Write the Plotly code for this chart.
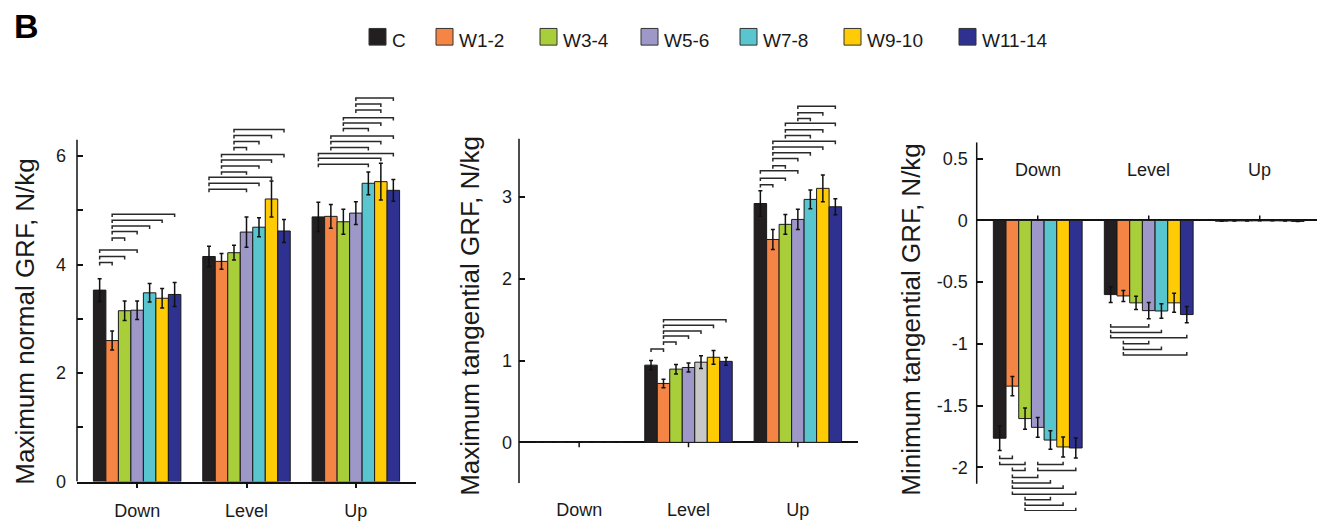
import plotly.graph_objects as go

W, H = 1317, 521
FONT = "Liberation Sans, Arial, sans-serif"
TXT = "#1a1a1a"

categories = ["Down", "Level", "Up"]
groups = ["C", "W1-2", "W3-4", "W5-6", "W7-8", "W9-10", "W11-14"]
colors = ["#231f20", "#f58545", "#a8cf3a", "#9e98c9", "#58c5cf", "#ffcb05", "#2e3190"]
gray_bar = "#c8c8c8"

# Panel 1: Maximum normal GRF (per group: Down, Level, Up)
normal_max = {
    "C":      [3.53, 4.15, 4.88],
    "W1-2":   [2.60, 4.06, 4.89],
    "W3-4":   [3.15, 4.22, 4.79],
    "W5-6":   [3.16, 4.60, 4.95],
    "W7-8":   [3.48, 4.69, 5.50],
    "W9-10":  [3.38, 5.21, 5.53],
    "W11-14": [3.45, 4.62, 5.37],
}
normal_max_err = {
    "C":      [0.21, 0.19, 0.27],
    "W1-2":   [0.175, 0.145, 0.22],
    "W3-4":   [0.18, 0.135, 0.23],
    "W5-6":   [0.17, 0.28, 0.21],
    "W7-8":   [0.17, 0.175, 0.21],
    "W9-10":  [0.18, 0.33, 0.34],
    "W11-14": [0.22, 0.21, 0.20],
}

# Panel 2: Maximum tangential GRF
tang_max = {
    "C":      [0.004, 0.944, 2.92],
    "W1-2":   [0.004, 0.72, 2.48],
    "W3-4":   [0.004, 0.895, 2.665],
    "W5-6":   [0.004, 0.915, 2.725],
    "W7-8":   [0.004, 0.98, 2.97],
    "W9-10":  [0.004, 1.04, 3.105],
    "W11-14": [0.004, 0.99, 2.88],
}
tang_max_err = {
    "C":      [0.0, 0.058, 0.156],
    "W1-2":   [0.0, 0.052, 0.122],
    "W3-4":   [0.0, 0.058, 0.12],
    "W5-6":   [0.0, 0.054, 0.124],
    "W7-8":   [0.0, 0.078, 0.114],
    "W9-10":  [0.0, 0.084, 0.164],
    "W11-14": [0.0, 0.048, 0.098],
}

# Panel 3: Minimum tangential GRF
tang_min = {
    "C":      [-1.765, -0.601, -0.006],
    "W1-2":   [-1.343, -0.612, -0.004],
    "W3-4":   [-1.606, -0.668, -0.004],
    "W5-6":   [-1.677, -0.731, -0.003],
    "W7-8":   [-1.78, -0.734, -0.003],
    "W9-10":  [-1.836, -0.668, -0.004],
    "W11-14": [-1.844, -0.763, -0.008],
}
tang_min_err = {
    "C":      [0.099, 0.064, 0.0],
    "W1-2":   [0.078, 0.045, 0.0],
    "W3-4":   [0.086, 0.054, 0.0],
    "W5-6":   [0.08, 0.066, 0.0],
    "W7-8":   [0.075, 0.058, 0.0],
    "W9-10":  [0.081, 0.077, 0.0],
    "W11-14": [0.081, 0.066, 0.0],
}

# Significance brackets: (category index, bar i, bar j, level)
brackets_normal = [
    (0, 0, 1, 4.04), (0, 0, 2, 4.15), (0, 0, 3, 4.27), (0, 1, 2, 4.49), (0, 1, 3, 4.61),
    (0, 1, 4, 4.71), (0, 1, 5, 4.82), (0, 1, 6, 4.93),
    (1, 0, 3, 5.39), (1, 0, 4, 5.50), (1, 0, 5, 5.61), (1, 1, 3, 5.71), (1, 1, 4, 5.82),
    (1, 1, 5, 5.93), (1, 1, 6, 6.03), (1, 2, 3, 6.16), (1, 2, 4, 6.27), (1, 2, 5, 6.38),
    (1, 2, 6, 6.49),
    (2, 0, 4, 5.85), (2, 0, 5, 5.96), (2, 0, 6, 6.05), (2, 1, 4, 6.16), (2, 1, 5, 6.27),
    (2, 1, 6, 6.37), (2, 2, 4, 6.51), (2, 2, 5, 6.61), (2, 2, 6, 6.71), (2, 3, 5, 6.85),
    (2, 3, 5, 6.96), (2, 3, 6, 7.07),
]
brackets_tmax = [
    (1, 0, 1, 1.14), (1, 1, 2, 1.227), (1, 1, 3, 1.30), (1, 1, 4, 1.36), (1, 1, 5, 1.43),
    (1, 1, 6, 1.50),
    (2, 0, 1, 3.15), (2, 0, 2, 3.23), (2, 0, 3, 3.32), (2, 1, 2, 3.38), (2, 1, 3, 3.47),
    (2, 1, 4, 3.54), (2, 1, 5, 3.61), (2, 1, 6, 3.68), (2, 2, 4, 3.75), (2, 2, 5, 3.82),
    (2, 2, 6, 3.90), (2, 3, 4, 3.96), (2, 3, 5, 4.03), (2, 3, 6, 4.11),
]
brackets_tmin = [
    (0, 0, 1, -1.929), (0, 0, 2, -1.979), (0, 3, 5, -1.979), (0, 1, 2, -2.027),
    (0, 3, 6, -2.027), (0, 1, 3, -2.083), (0, 1, 4, -2.128), (0, 1, 5, -2.170),
    (0, 1, 6, -2.220), (0, 2, 4, -2.263), (0, 2, 5, -2.308), (0, 2, 6, -2.353),
    (1, 0, 3, -0.863), (1, 0, 4, -0.909), (1, 0, 6, -0.951), (1, 1, 3, -0.999),
    (1, 1, 4, -1.046), (1, 1, 6, -1.091),
]

y_titles = ["Maximum normal GRF, N/kg", "Maximum tangential GRF, N/kg",
            "Minimum tangential GRF, N/kg"]

# ---------------- layout geometry (pixels) ----------------
BARGAP = 0.2
NB = len(groups)
BW = (1 - BARGAP) / NB


def px_x(p):
    return p / W


def px_y(p):
    return 1 - p / H


def bar_center(cat, i):
    return cat - (1 - BARGAP) / 2 + (i + 0.5) * BW


xcat = list(range(len(categories)))
fig = go.Figure()

panels = [
    (normal_max, normal_max_err, "x", "y"),
    (tang_max, tang_max_err, "x2", "y2"),
    (tang_min, tang_min_err, "x3", "y3"),
]
for pi, (vals, errs, xa, ya) in enumerate(panels):
    for gi, g in enumerate(groups):
        cols = [colors[gi]] * len(categories)
        if pi == 1 and g == "W7-8":
            cols[1] = gray_bar
        fig.add_trace(go.Bar(
            x=xcat, y=vals[g], name=g, xaxis=xa, yaxis=ya,
            marker=dict(color=cols, line=dict(color="#1a1a1a", width=1)),
            error_y=dict(type="data", array=errs[g], color="#111111",
                         thickness=1.5, width=2),
            showlegend=False,
        ))

line_col = "#111111"
shapes = []


def add_brackets(blist, xa, ya, d):
    for cat, i, j, lev in blist:
        x1 = bar_center(cat, i)
        x2 = bar_center(cat, j)
        shapes.append(dict(
            type="path", xref=xa, yref=ya,
            path=f"M {x1},{lev - d} L {x1},{lev} L {x2},{lev} L {x2},{lev - d}",
            line=dict(color="#2a2a2a", width=1.5),
        ))


add_brackets(brackets_normal, "x", "y", 3 / 55.3)
add_brackets(brackets_tmax, "x2", "y2", 3 / 83.4)
add_brackets(brackets_tmin, "x3", "y3", -3 / 125.8)

# manual y-axis lines (the value range is extended for brackets)
for ya, xd, y0, y1 in [("y", "x domain", 0, 6.3), ("y2", "x2 domain", -0.5, 3.71),
                       ("y3", "x3 domain", -2.135, 0.634)]:
    shapes.append(dict(type="line", xref=xd, yref=ya, x0=0, x1=0, y0=y0, y1=y1,
                       line=dict(color=line_col, width=1.5)))

# category ticks on the zero lines of panels 2 and 3
for c in xcat:
    shapes.append(dict(type="line", xref="x2", yref="y2", x0=c, x1=c, y0=0, y1=-5 / 83.4,
                       line=dict(color=line_col, width=1.5)))
    shapes.append(dict(type="line", xref="x3", yref="y3", x0=c, x1=c, y0=0, y1=5 / 125.8,
                       line=dict(color=line_col, width=1.5)))

# legend (manual)
LEG_X = [369, 436, 540, 641, 740, 844, 959]
annotations = []
for gi, g in enumerate(groups):
    x0 = LEG_X[gi]
    shapes.append(dict(type="rect", xref="paper", yref="paper",
                       x0=px_x(x0), x1=px_x(x0 + 17), y0=px_y(46), y1=px_y(29),
                       fillcolor=colors[gi], line=dict(color="#333333", width=1)))
    annotations.append(dict(xref="paper", yref="paper", x=px_x(x0 + 21), y=px_y(41),
                            text=g, showarrow=False, xanchor="left", yanchor="middle",
                            font=dict(size=19, color=TXT, family=FONT)))

# panel label
annotations.append(dict(xref="paper", yref="paper", x=px_x(26), y=px_y(26), text="<b>B</b>",
                        showarrow=False, xanchor="center", yanchor="middle",
                        font=dict(size=34, color="#000000", family=FONT)))

# axis titles
for (cx, cy), t in zip([(25, 328), (470, 322), (911, 326)], y_titles):
    annotations.append(dict(xref="paper", yref="paper", x=px_x(cx), y=px_y(cy), text=t,
                            textangle=-90, showarrow=False, xanchor="center",
                            yanchor="middle", font=dict(size=26, color=TXT, family=FONT)))

# category labels at top of panel 3
for c, name in zip(xcat, categories):
    annotations.append(dict(xref="x3", yref="y3", x=c, y=0.41, text=name, showarrow=False,
                            xanchor="center", yanchor="middle",
                            font=dict(size=18, color=TXT, family=FONT)))

tickfont = dict(size=18, color=TXT, family=FONT)
common_y = dict(showgrid=False, showline=False, zeroline=False, ticks="inside", ticklen=6,
                tickwidth=1.5, tickcolor=line_col, tickfont=tickfont)

fig.update_layout(
    width=W, height=H, margin=dict(l=0, r=0, t=0, b=0),
    paper_bgcolor="white", plot_bgcolor="white",
    barmode="group", bargap=BARGAP, bargroupgap=0,
    font=dict(family=FONT, color=TXT),
    shapes=shapes, annotations=annotations,
    xaxis=dict(domain=[px_x(77), px_x(416)], range=[-0.55, 2.55], anchor="y",
               tickvals=xcat, ticktext=categories, showline=True, linecolor=line_col,
               linewidth=1.5, ticks="outside", ticklen=5, tickwidth=1.5, tickcolor=line_col,
               showgrid=False, zeroline=False, tickfont=tickfont, ticklabelstandoff=7),
    yaxis=dict(domain=[px_y(491), px_y(491 - 7.2 * 55.3)], range=[0, 7.2], anchor="x",
               tickvals=[0, 1, 2, 3, 4, 5, 6], ticktext=["0", "", "2", "", "4", "", "6"],
               ticklabelstandoff=10, **common_y),
    xaxis2=dict(domain=[px_x(519), px_x(858)], range=[-0.55, 2.55], anchor="y2",
                tickvals=xcat, ticktext=categories, showline=False, ticks="outside",
                ticklen=5, tickcolor="rgba(0,0,0,0)", showgrid=False, zeroline=False,
                tickfont=tickfont, ticklabelstandoff=5),
    yaxis2=dict(domain=[px_y(492.7), px_y(451 - 4.25 * 83.4)], range=[-0.5, 4.25],
                anchor="x2", tickvals=[0, 1, 2, 3], ticktext=["0", "1", "2", "3"],
                ticklabelstandoff=6,
                **{**common_y, "zeroline": True}, zerolinecolor=line_col, zerolinewidth=1.5),
    xaxis3=dict(domain=[px_x(976.7), 1.0], range=[-0.55, 2.516], anchor="y3",
                showticklabels=False, ticks="", showline=False, showgrid=False,
                zeroline=False),
    yaxis3=dict(domain=[0, px_y(145)], range=[-2.355, 0.634], anchor="x3",
                tickvals=[-2, -1.5, -1, -0.5, 0, 0.5],
                ticktext=["-2", "-1.5", "-1", "-0.5", "0", "0.5"], ticklabelstandoff=8,
                **{**common_y, "zeroline": True}, zerolinecolor=line_col, zerolinewidth=1.5),
)

fig.write_html("out.html")
